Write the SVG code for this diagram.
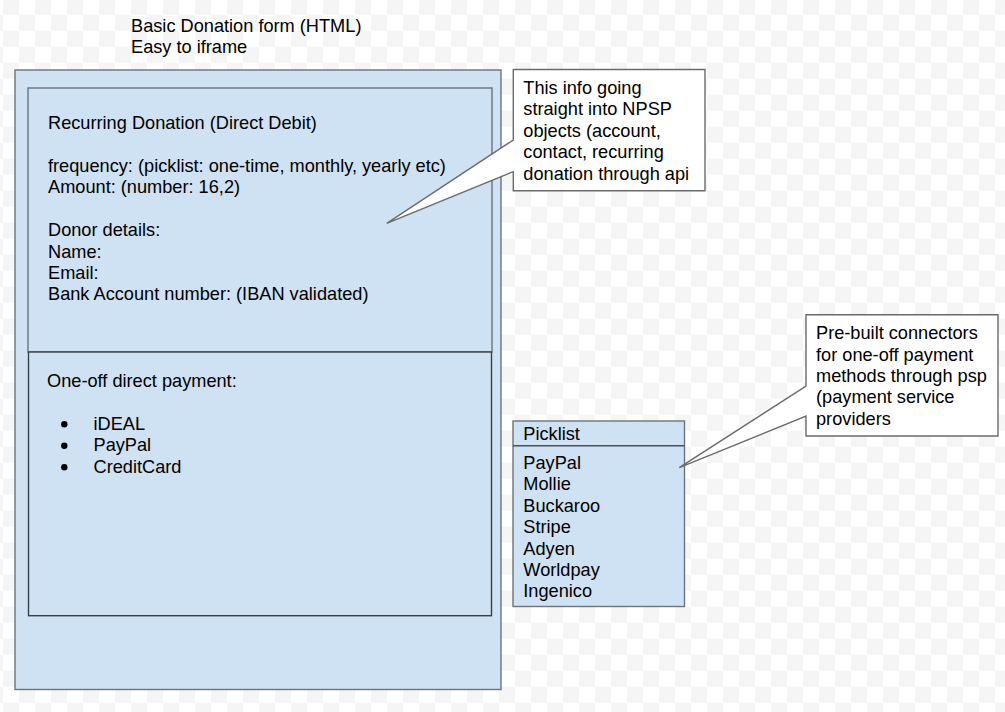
<svg xmlns="http://www.w3.org/2000/svg" width="1005" height="712" viewBox="0 0 1005 712">
<defs>
<pattern id="checker" x="3" y="-1.3" width="32" height="32" patternUnits="userSpaceOnUse">
<rect width="32" height="32" fill="#ffffff"/>
<rect x="0" y="0" width="16" height="16" fill="#f5f5f5"/>
<rect x="16" y="16" width="16" height="16" fill="#f5f5f5"/>
</pattern>
</defs>
<style>
text{font-family:"Liberation Sans",Arial,sans-serif;font-size:18.2px;fill:#000}
.box{fill:#cfe2f3;stroke:#6b747c;stroke-width:1.4}
.dark{fill:#cfe2f3;stroke:#3a3f44;stroke-width:1.4}
.callout{fill:#ffffff;stroke:#6b6b6b;stroke-width:1.4;stroke-linejoin:miter}
</style>
<rect width="1005" height="712" fill="url(#checker)"/>
<g id="title">
<text x="131" y="32.3">Basic Donation form (HTML)</text>
<text x="131" y="52.8">Easy to iframe</text>
</g>
<g id="form">
<rect class="box" x="15" y="70" width="486" height="619.5"/>
</g>
<g id="recurring">
<rect class="box" x="28" y="88" width="464" height="264"/>
<text x="48" y="129.3">Recurring Donation (Direct Debit)</text>
<text x="48" y="172">frequency: (picklist: one-time, monthly, yearly etc)</text>
<text x="48" y="193.4">Amount: (number: 16,2)</text>
<text x="48" y="236.2">Donor details:</text>
<text x="48" y="257.6">Name:</text>
<text x="48" y="279">Email:</text>
<text x="48" y="300.4">Bank Account number: (IBAN validated)</text>
</g>
<g id="oneoff">
<rect class="dark" x="28.5" y="352" width="463" height="263.7"/>
<text x="47" y="386.7">One-off direct payment:</text>
<circle cx="64.3" cy="424.3" r="3.2" fill="#000"/>
<circle cx="64.3" cy="445.7" r="3.2" fill="#000"/>
<circle cx="64.3" cy="467.3" r="3.2" fill="#000"/>
<text x="93.5" y="429.9">iDEAL</text>
<text x="93.5" y="451.3">PayPal</text>
<text x="93.5" y="472.7">CreditCard</text>
</g>
<g id="picklist">
<rect class="box" x="513" y="421" width="171.5" height="185.5"/>
<line x1="513" y1="445.7" x2="684.5" y2="445.7" stroke="#4a5056" stroke-width="1.4"/>
<text x="523.3" y="440">Picklist</text>
<text x="523.3" y="469">PayPal</text>
<text x="523.3" y="490.4">Mollie</text>
<text x="523.3" y="511.8">Buckaroo</text>
<text x="523.3" y="533.2">Stripe</text>
<text x="523.3" y="554.6">Adyen</text>
<text x="523.3" y="576">Worldpay</text>
<text x="523.3" y="597.4">Ingenico</text>
</g>
<g id="connectors">
<path class="callout" d="M513.3,69.5 H705 V190.7 H513.3 V171.7 L386.7,223.3 L513.3,140 Z"/>
<path class="callout" d="M806,314.7 H998 V436 H806 V416 L679.3,467.7 L806,386 Z"/>
</g>
<g id="callout-npsp">
<text x="523.3" y="94">This info going</text>
<text x="523.3" y="115.4">straight into NPSP</text>
<text x="523.3" y="136.8">objects (account,</text>
<text x="523.3" y="158.2">contact, recurring</text>
<text x="523.3" y="179.6">donation through api</text>
</g>
<g id="callout-psp">
<text x="816" y="339.3">Pre-built connectors</text>
<text x="816" y="360.6">for one-off payment</text>
<text x="816" y="381.9">methods through psp</text>
<text x="816" y="403.2">(payment service</text>
<text x="816" y="424.5">providers</text>
</g>
</svg>
